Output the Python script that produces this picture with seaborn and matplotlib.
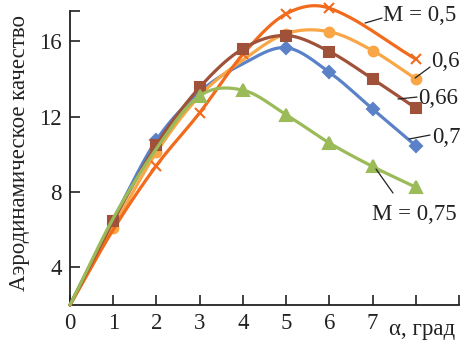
import numpy as np
import pandas as pd
import matplotlib
matplotlib.use("Agg")
import matplotlib.pyplot as plt
import seaborn as sns

# angle of attack, deg
alpha = [0, 1, 2, 3, 4, 5, 6, 7, 8]
alpha_05 = [0, 1, 2, 3, 4, 5, 6, 8]

# aerodynamic quality K for each Mach number
k_05 = [2.0, 6.0, 9.4, 12.2, 15.3, 17.45, 17.75, 15.05]
k_06 = [2.0, 6.1, 10.1, 13.1, 15.0, 16.4, 16.5, 15.5, 14.0]
k_066 = [2.0, 6.45, 10.5, 13.55, 15.6, 16.3, 15.45, 14.0, 12.45]
k_07 = [2.0, 6.5, 10.75, 13.3, 14.8, 15.65, 14.35, 12.4, 10.45]
k_075 = [2.0, 6.6, 10.3, 13.1, 13.4, 12.1, 10.6, 9.35, 8.25]

x_ticks = [0, 1, 2, 3, 4, 5, 6, 7, 8, 9]
x_ticklabels = ["0", "1", "2", "3", "4", "5", "6", "7", "", ""]
y_ticks = [4, 8, 12, 16, 17.6]
y_ticklabels = ["4", "8", "12", "16", ""]


def smooth(x, y, n=40):
    # cardinal (Catmull-Rom like) spline through the points, like Excel's smoothed line
    x = np.asarray(x, float)
    y = np.asarray(y, float)
    m = np.zeros_like(y)
    m[1:-1] = (y[2:] - y[:-2]) / (x[2:] - x[:-2])
    m[0] = (y[1] - y[0]) / (x[1] - x[0])
    m[-1] = (y[-1] - y[-2]) / (x[-1] - x[-2])
    xs, ys = [], []
    for i in range(len(x) - 1):
        t = np.linspace(0, 1, n)
        h = x[i + 1] - x[i]
        h00 = 2 * t**3 - 3 * t**2 + 1
        h10 = t**3 - 2 * t**2 + t
        h01 = -2 * t**3 + 3 * t**2
        h11 = t**3 - t**2
        xs.append(x[i] + h * t)
        ys.append(h00 * y[i] + h10 * h * m[i] + h01 * y[i + 1] + h11 * h * m[i + 1])
    return np.concatenate(xs), np.concatenate(ys)


sns.set_theme(style="ticks")
plt.rcParams["font.family"] = ["Liberation Serif", "DejaVu Serif"]

fig = plt.figure(figsize=(4.71, 3.48), dpi=100)
ax = fig.add_axes([70 / 471, 1 - 305 / 348, 389 / 471, 294 / 348])

# x, y, colour, marker, size, z, which points get a marker
series = [
    (alpha, k_07, "#5B82C8", "D", 6, 2, [2, 5, 6, 7, 8]),
    (alpha, k_06, "#F9A646", "o", 7, 3, [1, 2, 5, 6, 7, 8]),
    (alpha_05, k_05, "#F26A1B", "x", 6.5, 4, [2, 3, 4, 5, 6, 7]),
    (alpha, k_066, "#A0513A", "s", 7.5, 5, [1, 2, 3, 4, 5, 6, 7, 8]),
    (alpha, k_075, "#9BBB59", "^", 8, 6, [3, 4, 5, 6, 7, 8]),
]

for xs, ys, col, mk, ms, z, every in series:
    sx, sy = smooth(xs, ys)
    df = pd.DataFrame({"a": sx, "k": sy})
    sns.lineplot(data=df, x="a", y="k", sort=False, ax=ax, color=col,
                 lw=2.3, zorder=z, clip_on=False)
    ax.plot(xs, ys, ls="none", marker=mk, ms=ms, color=col, markevery=every,
            mew=1.5, zorder=z, clip_on=False)

ax.set_xlim(0, 9)
ax.set_ylim(2, 17.6)
ax.set_xticks(x_ticks)
ax.set_xticklabels(x_ticklabels)
ax.set_yticks(y_ticks)
ax.set_yticklabels(y_ticklabels)
ax.set_xlabel("")
ax.set_ylabel("")
ax.tick_params(direction="in", length=7, width=1.2, colors="#222222",
               labelsize=16.5, pad=6)
sns.despine(ax=ax)
for s in ["left", "bottom"]:
    ax.spines[s].set_linewidth(1.3)
    ax.spines[s].set_color("#222222")

ax.text(8.15, -0.085, "α, град", transform=ax.get_xaxis_transform(),
        ha="center", va="center", fontsize=16.5, color="#222222")

fig.text(20 / 471, 1 - 153 / 348, "Аэродинамическое качество", rotation=90,
         ha="center", va="center", fontsize=16.5, color="#222222")


def px(x, y):
    return ((x - 70) / 43.22, 2 + (305 - y) / 18.85)


labels = [
    ("M = 0,5", (383, 15), (365, 23), (382, 18)),
    ("0,6", (431, 61), (415, 78), (430, 67)),
    ("0,66", (418, 98), (398, 99), (417, 97)),
    ("0,7", (432, 137), (409, 139), (430, 135)),
    ("M = 0,75", (372, 214), (376, 169), (393, 193)),
]
for txt, tpos, p0, p1 in labels:
    tx, ty = px(*tpos)
    ax.text(tx, ty, txt, ha="left", va="center", fontsize=16.5,
            color="#222222", clip_on=False)
    a0 = px(*p0)
    a1 = px(*p1)
    ax.plot([a0[0], a1[0]], [a0[1], a1[1]], color="#222222", lw=0.9,
            clip_on=False, zorder=7)

fig.savefig("out.png", dpi=100)
